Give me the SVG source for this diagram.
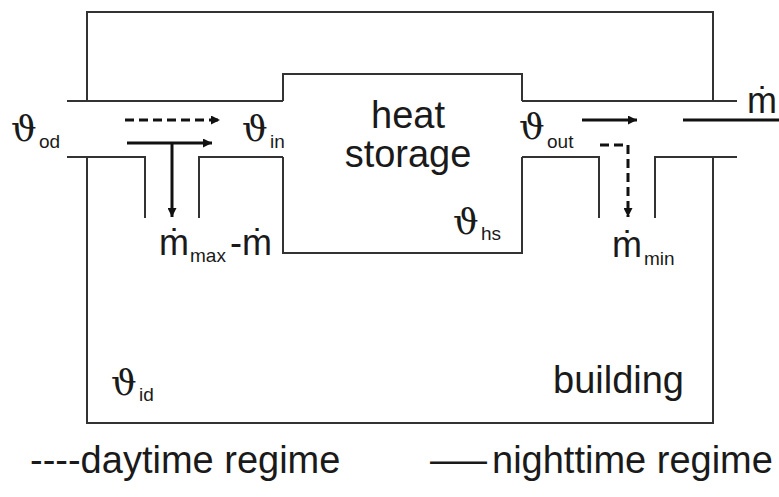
<svg xmlns="http://www.w3.org/2000/svg" width="779" height="497" viewBox="0 0 779 497">
<defs>
<style>
.wall{fill:none;stroke:#333;stroke-width:2}
.flow{fill:none;stroke:#111;stroke-width:3}
.dash{stroke-dasharray:9,5}
.t{font-family:"Liberation Sans",Arial,sans-serif;fill:#1a1a1a}
.big{font-size:38px}
.m{font-size:36px}
.sub{font-size:19px}
.th{font-family:"DejaVu Serif","Liberation Serif",serif;font-size:36px;fill:#1a1a1a}
</style>
<marker id="ah" viewBox="0 0 10 10" refX="10" refY="5" markerWidth="9" markerHeight="9" markerUnits="userSpaceOnUse" orient="auto">
<path d="M0,0 L10,5 L0,10 z" fill="#111"/>
</marker>
</defs>
<rect width="779" height="497" fill="#fff"/>

<g id="building">
<path class="wall" d="M87,101 V12 H713 V101"/>
<path class="wall" d="M87,157 V423 H713 V157"/>
<text class="t big" x="553" y="393">building</text>
<text class="th" x="111" y="395">ϑ</text><text class="t sub" x="139" y="401">id</text>
</g>

<g id="ducts">
<path class="wall" d="M67,101 H283"/>
<path class="wall" d="M522,101 H737"/>
<path class="wall" d="M67,157 H145 V218"/>
<path class="wall" d="M199,218 V157 H283"/>
<path class="wall" d="M522,157 H599 V218"/>
<path class="wall" d="M655,218 V157 H737"/>
</g>

<g id="heat-storage">
<path class="wall" d="M283,101 V74 H522 V101"/>
<path class="wall" d="M283,157 V253 H522 V157"/>
<text class="t big" x="408" y="128" text-anchor="middle">heat</text>
<text class="t big" x="408" y="167" text-anchor="middle">storage</text>
<text class="th" x="453" y="234">ϑ</text><text class="t sub" x="481" y="240">hs</text>
</g>

<g id="connectors">
<line class="flow dash" x1="125" y1="120" x2="220" y2="120" marker-end="url(#ah)"/>
<line class="flow" x1="127" y1="143" x2="212" y2="143" marker-end="url(#ah)"/>
<line class="flow" x1="172" y1="143" x2="172" y2="217" marker-end="url(#ah)"/>
<line class="flow" x1="582" y1="120" x2="637" y2="120" marker-end="url(#ah)"/>
<line class="flow" x1="683" y1="120" x2="779" y2="120"/>
<path class="flow dash" d="M600,145 H628 V217" marker-end="url(#ah)"/>
</g>

<g id="labels">
<text class="th" x="11" y="141">ϑ</text><text class="t sub" x="39" y="148">od</text>
<text class="th" x="242" y="141">ϑ</text><text class="t sub" x="270" y="148">in</text>
<text class="th" x="519" y="139">ϑ</text><text class="t sub" x="547" y="148">out</text>
<text class="t m" x="159" y="255">ṁ</text><text class="t sub" x="190" y="262">max</text><text class="t m" x="230" y="255">-ṁ</text>
<text class="t m" x="612" y="257">ṁ</text><text class="t sub" x="644" y="265">min</text>
<text class="t m" x="747" y="113">ṁ</text>
</g>

<g id="legend">
<text class="t big" x="30" y="473">----daytime regime</text>
<text class="t big" x="430" y="473" textLength="57" lengthAdjust="spacingAndGlyphs">—</text>
<text class="t big" x="492" y="473">nighttime regime</text>
</g>
</svg>
